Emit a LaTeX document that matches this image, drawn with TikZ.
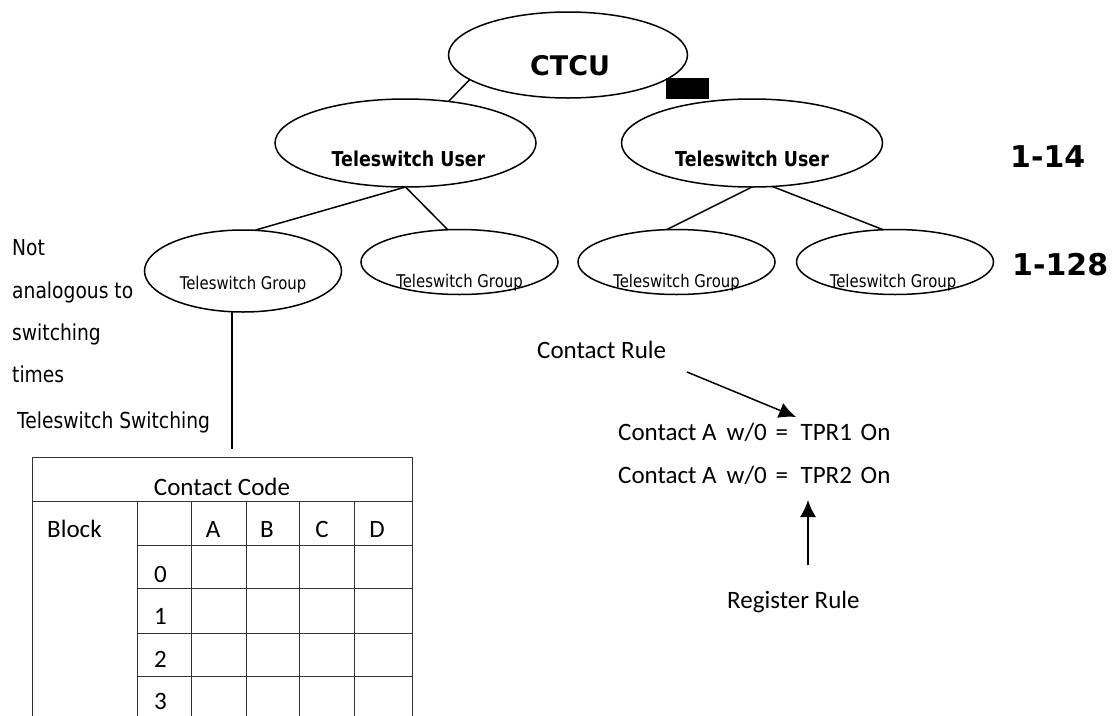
\documentclass[tikz,border=0pt]{standalone}
\usepackage{fontspec}
\setmainfont{DejaVu Sans}
\newfontfamily\tahfont[FakeStretch=0.85]{DejaVu Sans}
\newfontfamily\calfont{Carlito}
\usetikzlibrary{shapes.geometric,arrows.meta}

\tikzset{
  oval/.style={ellipse, draw, line width=1.5pt, inner sep=0pt, outer sep=0pt},
  user/.style={oval, minimum width=261pt, minimum height=88pt},
  grp/.style={oval, minimum width=197pt, minimum height=65pt},
  utxt/.style={font=\tahfont\bfseries\fontsize{20.5}{22}\selectfont, anchor=base},
  gtxt/.style={font=\tahfont\fontsize{17.5}{19}\selectfont, anchor=base},
  ltxt/.style={font=\tahfont\fontsize{22}{24}\selectfont, anchor=base west, inner sep=0pt},
  ctxt/.style={font=\calfont\fontsize{25}{27}\selectfont, inner sep=0pt},
  cnt/.style={font=\bfseries\fontsize{30}{32}\selectfont, anchor=base west, inner sep=0pt},
  link/.style={line width=1.5pt},
  tabline/.style={line width=1pt, black!80}
}

\begin{document}
\begin{tikzpicture}[x=1pt, y=-1pt, >={Latex[length=17pt,width=16pt]}]
\useasboundingbox (0,0) rectangle (1115,715);
\clip (0,0) rectangle (1115,715);

% tree
\node[oval, minimum width=239pt, minimum height=86pt,
  label={[anchor=base, yshift=-11pt, xshift=2pt, font=\bfseries\fontsize{27}{29}\selectfont]center:CTCU}]
  at (568, 55) (ctcu) {};
\node[fill=black, minimum width=43pt, minimum height=21pt, inner sep=0pt] at (687.5, 88.5) (blk) {};

\node[user, label={[utxt, yshift=-16pt, xshift=3pt]center:Teleswitch User}] at (405.5, 143) (tul) {};
\node[user, label={[utxt, yshift=-16pt]center:Teleswitch User}] at (752, 143) (tur) {};

\node[grp, minimum height=82pt, label={[gtxt, yshift=-14pt]center:Teleswitch Group}] at (243, 271) (g1) {};
\node[grp, label={[gtxt, yshift=-21pt]center:Teleswitch Group}] at (459.5, 262) (g2) {};
\node[grp, label={[gtxt, yshift=-21pt]center:Teleswitch Group}] at (676.5, 262) (g3) {};
\node[grp, label={[gtxt, yshift=-21pt, xshift=-2pt]center:Teleswitch Group}] at (895, 262) (g4) {};

\draw[link] (ctcu.194) -- (tul.44);
\draw[link] (tul.south) -- (g1.74);
\draw[link] (tul.south) -- (g2.110);
\draw[link] (tur.south) -- (g3.107);
\draw[link] (tur.295) -- (g4.110);

\node[cnt] at (1010, 167) (n14) {1-14};
\node[cnt] at (1012, 275) (n128) {1-128};

% left notes
\foreach \t/\y [count=\i] in {Not/255, analogous to/298, switching/340, times/382}
  \node[ltxt] at (12, \y) (note\i) {\t};
\node[ltxt] at (17, 428) (tsw) {Teleswitch Switching};

\coordinate (tabtop) at (232, 449);
\draw[link] (tabtop |- g1.south) -- (tabtop);

% contact code table
\draw[tabline] (32,457) -- (412,457);
\draw[tabline] (32,501) -- (412,501);
\draw[tabline] (32,457) -- (32,720);
\draw[tabline] (412,457) -- (412,720);
\foreach \y in {545,588,633,676}
  \draw[tabline] (137,\y) -- (412,\y);
\foreach \x in {137,191,246,299,354}
  \draw[tabline] (\x,501) -- (\x,720);

\node[ctxt, anchor=base] at (222, 495) (code) {Contact Code};
\node[ctxt, anchor=base west] at (47, 537) (block) {Block};
\foreach \c/\x in {A/213, B/267, C/322, D/377}
  \node[ctxt, anchor=base] at (\x, 537) (col\c) {\c};
\foreach \n in {0,...,3}
  \node[ctxt, anchor=base west] at (154, 582+42.6*\n) (row\n) {\n};

% rules
\node[ctxt, anchor=base west] at (537, 358) (crule) {Contact Rule};
\node[ctxt, anchor=base west] at (618, 440) (rule1) {Contact A\hspace{0.4em}w/0\hspace{0.35em}=\hspace{0.5em}TPR1\hspace{0.35em}On};
\node[ctxt, anchor=base west] at (618, 483) (rule2) {Contact A\hspace{0.4em}w/0\hspace{0.35em}=\hspace{0.5em}TPR2\hspace{0.35em}On};
\node[ctxt, anchor=base west] at (727, 608) (rrule) {Register Rule};

\coordinate (crtail) at (687, 372);
\coordinate (crtip) at (796, 417);
\draw[link, ->] (crtail) -- (crtip);
\coordinate (rrtail) at (808, 565);
\coordinate (rrtip) at (808, 500);
\draw[link, ->] (rrtail) -- (rrtip);

\end{tikzpicture}
\end{document}
